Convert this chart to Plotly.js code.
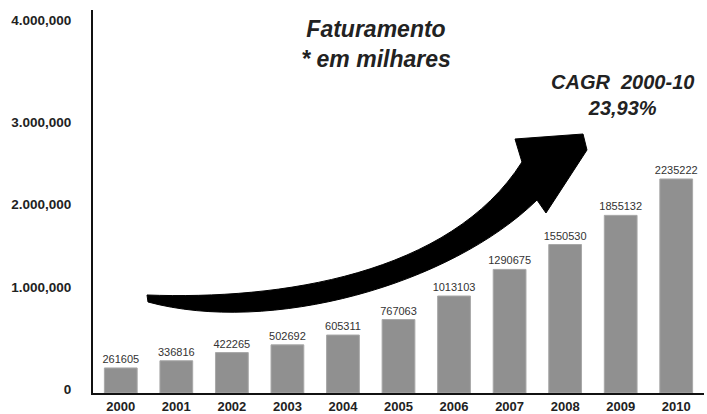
<!DOCTYPE html>
<html>
<head>
<meta charset="utf-8">
<script src="https://cdn.plot.ly/plotly-3.0.1.min.js"></script>
<style>html,body{margin:0;padding:0;background:#fff;}#chart{width:707px;height:414px;}</style>
</head>
<body>
<div id="chart"></div>
<script>
const years = ["2000","2001","2002","2003","2004","2005","2006","2007","2008","2009","2010"];
const revenue = [261605, 336816, 422265, 502692, 605311, 767063, 1013103, 1290675, 1550530, 1855132, 2235222];
const yTickVals = [42000, 1104000, 1969000, 2823000, 3896000];
const yTickText = ["0", "1.000,000", "2.000,000", "3.000,000", "4.000,000"];

const W = 707, H = 414;
const M = {l: 93, r: 3, t: 10, b: 21};
const pw = W - M.l - M.r, ph = H - M.t - M.b;
const px = x => ((x - M.l) / pw).toFixed(4);
const py = y => ((H - M.b - y) / ph).toFixed(4);
const P = (x, y) => px(x) + ',' + py(y);

const arrowPath = 'M ' + P(147,295) +
  ' C ' + P(280,300) + ' ' + P(450,275) + ' ' + P(522,162) +
  ' L ' + P(515,139) + ' L ' + P(583,134) + ' L ' + P(587,150) +
  ' L ' + P(546,213) + ' L ' + P(537,200) +
  ' C ' + P(450,285) + ' ' + P(270,335) + ' ' + P(148,302) + ' Z';

const trace = {
  type: 'bar',
  x: years,
  y: revenue,
  text: revenue.map(String),
  textposition: 'outside',
  constraintext: 'none',
  cliponaxis: false,
  textfont: {family: '"Liberation Sans Narrow", "Arial Narrow", "Liberation Sans", Arial, sans-serif', size: 11, color: '#333333'},
  marker: {color: '#909090', line: {color: '#a8a8a8', width: 1}},
  width: 0.59,
  hoverinfo: 'skip'
};

const layout = {
  width: W, height: H,
  margin: M,
  paper_bgcolor: '#fff', plot_bgcolor: '#fff',
  showlegend: false,
  font: {family: '"Liberation Sans", Arial, sans-serif', color: '#222'},
  title: {
    text: '<b><i>Faturamento<br>* em milhares</i></b>',
    font: {size: 23, color: '#222', family: '"Liberation Sans", Arial, sans-serif'},
    xref: 'container', yref: 'container',
    x: 376 / W, y: 1 - 37 / H, xanchor: 'center', yanchor: 'middle'
  },
  xaxis: {
    type: 'category',
    range: [-0.5, 10.5],
    showgrid: false, zeroline: false,
    showline: true, linecolor: '#111', linewidth: 2,
    ticks: '',
    tickfont: {size: 13, color: '#222', family: '"Liberation Sans", Arial, sans-serif', weight: 'bold'},
    fixedrange: true
  },
  yaxis: {
    range: [0, 4000000],
    showgrid: false, zeroline: false,
    showline: true, linecolor: '#111', linewidth: 2,
    tickvals: yTickVals, ticktext: yTickText,
    ticks: '', ticklabelstandoff: 17,
    tickfont: {size: 13.5, color: '#222', family: '"Liberation Sans", Arial, sans-serif', weight: 'bold'},
    fixedrange: true
  },
  shapes: [{
    type: 'path', xref: 'paper', yref: 'paper',
    path: arrowPath,
    fillcolor: '#000', line: {color: '#000', width: 1}
  }],
  annotations: [{
    xref: 'paper', yref: 'paper',
    x: +px(622), y: +py(95),
    xanchor: 'center', yanchor: 'middle',
    text: '<b><i>CAGR  2000-10<br>23,93%</i></b>',
    showarrow: false, align: 'center',
    font: {size: 20, color: '#222', family: '"Liberation Sans", Arial, sans-serif'}
  }]
};

Plotly.newPlot('chart', [trace], layout, {displayModeBar: false, staticPlot: true});
</script>
</body>
</html>
